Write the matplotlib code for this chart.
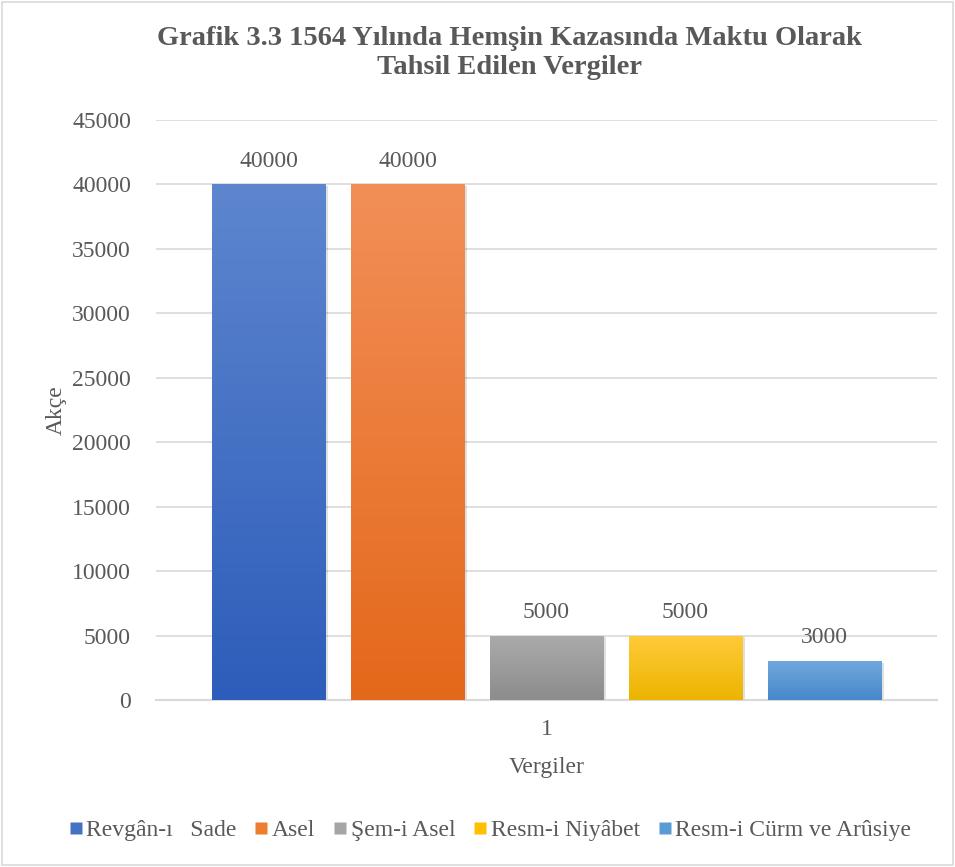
import numpy as np
import matplotlib
matplotlib.use("Agg")
import matplotlib.pyplot as plt
from matplotlib.lines import Line2D
from matplotlib.colors import LinearSegmentedColormap
from matplotlib.patches import Rectangle

# ─────────────────────────────────────────────
#  DATOS
# ─────────────────────────────────────────────
series = ["Revgân-ı   Sade", "Asel", "Şem-i Asel", "Resm-i Niyâbet", "Resm-i Cürm ve Arûsiye"]
values = [40000, 40000, 5000, 5000, 3000]
category = "1"

# colores (arriba, abajo) del degradado
top_colors = ["#5E86CF", "#F28F58", "#ABABAB", "#FFCB3A", "#6FA8DD"]
bot_colors = ["#2D5DBA", "#E4681A", "#8C8C8C", "#ECB400", "#4788CA"]
mid_colors = ["#4472C4", "#ED7D31", "#A5A5A5", "#FFC000", "#5B9BD5"]

TXT = "#595959"
plt.rcParams["font.family"] = ["Liberation Serif", "DejaVu Serif"]

fig = plt.figure(figsize=(9.55, 8.67), dpi=100)
fig.patches.append(Rectangle((0.002, 0.002), 0.996, 0.996, transform=fig.transFigure,
                             fill=False, edgecolor="#D9D9D9", lw=1.2))
ax = fig.add_axes([156 / 955, 1 - 700 / 867, 781 / 955, 580 / 867])

step = 0.178
width = 0.1447
xs = [0.5 + (i - 2) * step for i in range(len(values))]

ax.set_xlim(0, 1)
ax.set_ylim(0, 45000)

for i, (x, v) in enumerate(zip(xs, values)):
    # sombra leve
    sh = Rectangle((x - width / 2 + 0.004, 0), width, v - 150, facecolor="#000000",
                   alpha=0.12, edgecolor="none", zorder=2)
    ax.add_patch(sh)
    bar = ax.bar(x, v, width=width, color=mid_colors[i], zorder=3)[0]
    cmap = LinearSegmentedColormap.from_list(f"g{i}", [bot_colors[i], top_colors[i]])
    grad = np.linspace(0, 1, 256).reshape(-1, 1)
    im = ax.imshow(grad, cmap=cmap, origin="lower", aspect="auto",
                   extent=(x - width / 2, x + width / 2, 0, v), zorder=4)
    im.set_clip_path(bar)
    ax.text(x, v + 1000, f"{v}", ha="center", va="bottom", fontsize=17, color=TXT, zorder=5)

ax.set_xlim(0, 1)
ax.set_ylim(0, 45000)
ax.set_yticks(np.arange(0, 45001, 5000))
ax.set_xticks([0.5])
ax.set_xticklabels([category])
ax.grid(axis="y", color="#D9D9D9", lw=1.2, zorder=0)
ax.set_axisbelow(True)
for s in ["top", "right", "left"]:
    ax.spines[s].set_visible(False)
ax.spines["bottom"].set_color("#D9D9D9")
ax.spines["bottom"].set_linewidth(1.5)
ax.tick_params(axis="both", length=0, labelsize=17, colors=TXT)
ax.tick_params(axis="y", pad=18)
ax.tick_params(axis="x", pad=14)

ax.set_xlabel("Vergiler", fontsize=17, color=TXT, labelpad=12)
ax.set_ylabel("Akçe", fontsize=17, color=TXT, labelpad=4)

fig.text(0.533, 0.939, "Grafik 3.3 1564 Yılında Hemşin Kazasında Maktu Olarak\nTahsil Edilen Vergiler",
         ha="center", va="center", fontsize=20.5, fontweight="bold", color=TXT, linespacing=1.25)

handles = [Line2D([0], [0], marker="s", ls="none", markersize=9, markerfacecolor=c,
                  markeredgecolor="none") for c in mid_colors]
fig.legend(handles, series, loc="center", bbox_to_anchor=(0.513, 0.042), ncol=5, frameon=False,
           fontsize=17, labelcolor=TXT, handlelength=0.6, handletextpad=0.15, columnspacing=0.75)

fig.savefig("out.png", dpi=100, facecolor="white")
